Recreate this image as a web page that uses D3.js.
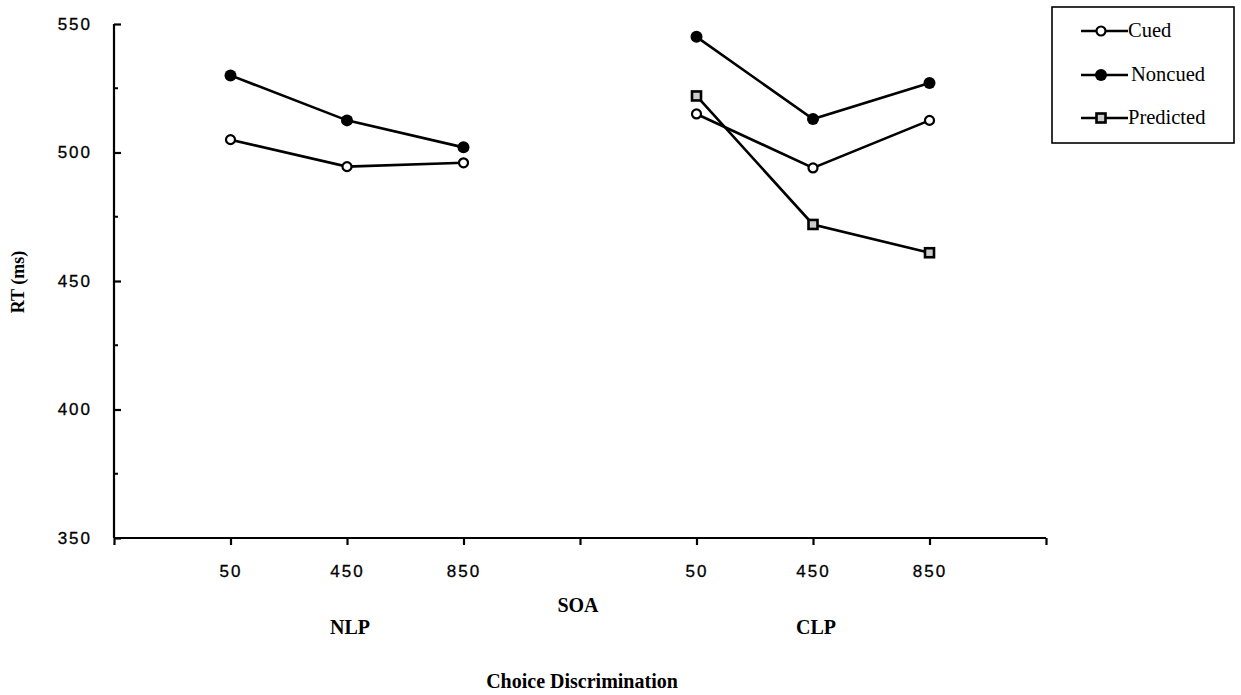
<!DOCTYPE html>
<html><head><meta charset="utf-8">
<script src="https://cdn.jsdelivr.net/npm/d3@7"></script>
<style>
body{margin:0;background:#fff;}
svg{display:block;}
.tick text{font-family:"Liberation Sans",Arial,sans-serif;}
</style></head>
<body><svg id="chart" width="1241" height="695"></svg>
<script>
// ---- data ----
const groups = ["NLP", "CLP"];
const soaLabels = ["50", "450", "850"];
const slots = ["start", "NLP-50", "NLP-450", "NLP-850", "gap", "CLP-50", "CLP-450", "CLP-850", "end"];
const cuedNLP = [505, 494.5, 496];
const noncuedNLP = [530, 512.5, 502];
const cuedCLP = [515, 494, 512.5];
const noncuedCLP = [545, 513, 527];
const predictedCLP = [522, 472, 461];
const yTicks = [350, 400, 450, 500, 550];
const yMinorTicks = [375, 425, 475, 525];
const seriesNames = ["Cued", "Noncued", "Predicted"];

const svg = d3.select("#chart");
const x = d3.scalePoint().domain(slots).range([114, 1046]);
const y = d3.scaleLinear().domain([350, 550]).range([538, 24]);

const serif = '"Liberation Serif","Times New Roman",serif';

// y axis
const yAxis = d3.axisLeft(y).tickValues(yTicks).tickSize(-7).tickPadding(22).tickFormat(d3.format("d"));
const gy = svg.append("g").attr("transform", "translate(114,0)").call(yAxis);
gy.select(".domain").attr("stroke-width", 2.2).attr("d", `M0,${y(550)}H0V${y(350)}`);
gy.selectAll(".tick line").attr("stroke-width", 2.2);
gy.selectAll(".tick text").attr("font-size", 17).attr("letter-spacing", 2).attr("fill", "#000")
  .attr("stroke", "#000").attr("stroke-width", 0.3).attr("dy", "0.32em");
svg.append("g").selectAll("line").data(yMinorTicks).join("line")
  .attr("x1", 114).attr("x2", 118).attr("y1", d => y(d)).attr("y2", d => y(d))
  .attr("stroke", "#000").attr("stroke-width", 2);

// x axis
const labelFor = s => { const p = s.split("-"); return p.length === 2 ? p[1] : ""; };
const xAxis = d3.axisBottom(x).tickSize(7).tickPadding(20).tickFormat(labelFor);
const gx = svg.append("g").attr("transform", `translate(0,${y(350)})`).call(xAxis);
gx.select(".domain").attr("stroke-width", 2.2).attr("d", `M114,0H1046`);
gx.selectAll(".tick line").attr("stroke-width", 2.2);
gx.selectAll(".tick text").attr("font-size", 17).attr("letter-spacing", 2).attr("fill", "#000")
  .attr("stroke", "#000").attr("stroke-width", 0.3);

// axis titles
svg.append("text").attr("x", 578).attr("y", 612).attr("text-anchor", "middle")
  .attr("font-family", serif).attr("font-weight", "bold").attr("font-size", 20).text("SOA");
groups.forEach(g => {
  svg.append("text").attr("x", x(g + "-450") + 3).attr("y", 634).attr("text-anchor", "middle")
    .attr("font-family", serif).attr("font-weight", "bold").attr("font-size", 20).text(g);
});
svg.append("text").attr("x", 582).attr("y", 688).attr("text-anchor", "middle")
  .attr("font-family", serif).attr("font-weight", "bold").attr("font-size", 20).text("Choice Discrimination");
svg.append("text").attr("transform", "translate(24,282) rotate(-90)").attr("text-anchor", "middle")
  .attr("font-family", serif).attr("font-weight", "bold").attr("font-size", 18).text("RT (ms)");

// series
const mk = (g, vals) => vals.map((v, i) => ({ x: x(g + "-" + soaLabels[i]), y: y(v) }));
const series = [
  { name: "Cued", pts: mk("NLP", cuedNLP), type: "open" },
  { name: "Noncued", pts: mk("NLP", noncuedNLP), type: "filled" },
  { name: "Cued", pts: mk("CLP", cuedCLP), type: "open" },
  { name: "Noncued", pts: mk("CLP", noncuedCLP), type: "filled" },
  { name: "Predicted", pts: mk("CLP", predictedCLP), type: "square" }
];
const line = d3.line().x(d => d.x).y(d => d.y);

function drawMarker(sel, type) {
  if (type === "open") {
    sel.append("circle").attr("r", 4.5).attr("fill", "#fff").attr("stroke", "#000").attr("stroke-width", 2.2);
  } else if (type === "filled") {
    sel.append("circle").attr("r", 6).attr("fill", "#000");
  } else {
    sel.append("rect").attr("x", -4.5).attr("y", -4.5).attr("width", 9).attr("height", 9)
      .attr("fill", "#ccc").attr("stroke", "#000").attr("stroke-width", 2.6);
  }
}

series.forEach(s => {
  svg.append("path").datum(s.pts).attr("d", line).attr("fill", "none")
    .attr("stroke", "#000").attr("stroke-width", 2.6);
});
series.forEach(s => {
  s.pts.forEach(p => {
    const g = svg.append("g").attr("transform", `translate(${p.x},${p.y})`);
    drawMarker(g, s.type);
  });
});

// legend
const lg = svg.append("g");
lg.append("rect").attr("x", 1052).attr("y", 7).attr("width", 182).attr("height", 136)
  .attr("fill", "#fff").attr("stroke", "#000").attr("stroke-width", 1.6);
const legendTypes = ["open", "filled", "square"];
const legendY = [31, 75, 118];
seriesNames.forEach((n, i) => {
  const yy = legendY[i];
  lg.append("line").attr("x1", 1081).attr("x2", 1128).attr("y1", yy).attr("y2", yy)
    .attr("stroke", "#000").attr("stroke-width", 2.4);
  const g = lg.append("g").attr("transform", `translate(1101,${yy})`);
  drawMarker(g, legendTypes[i]);
  lg.append("text").attr("x", i === 1 ? 1131 : 1128).attr("y", yy + 6).attr("font-family", serif)
    .attr("font-size", 20.5).text(n);
});
</script></body></html>
